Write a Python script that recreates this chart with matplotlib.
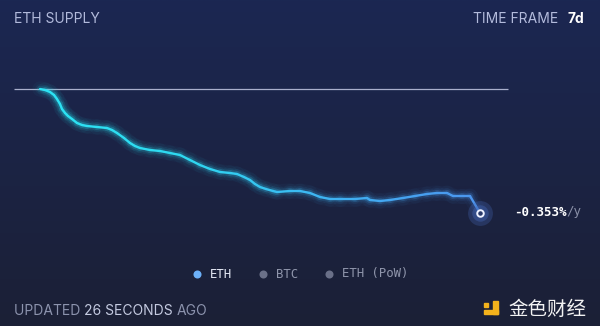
import numpy as np
import matplotlib
matplotlib.use("Agg")
import matplotlib.pyplot as plt
from matplotlib.collections import LineCollection
from matplotlib.colors import LinearSegmentedColormap
from matplotlib.patches import Rectangle
from matplotlib.lines import Line2D

# ---- data: days since start, supply change (ETH)
days = [0.0, 0.08, 0.159, 0.223, 0.27, 0.318, 0.35, 0.398, 0.445, 0.509, 0.589,
        0.668, 0.748, 0.907, 1.066, 1.145, 1.225, 1.336, 1.432, 1.511, 1.591,
        1.75, 1.909, 2.068, 2.227, 2.386, 2.545, 2.705, 2.864, 3.023, 3.134,
        3.245, 3.341, 3.42, 3.5, 3.595, 3.707, 3.77, 3.977, 4.136, 4.295, 4.455,
        4.614, 4.773, 5.011, 5.202, 5.25, 5.409, 5.568, 5.775, 5.966, 6.157,
        6.316, 6.475, 6.57, 6.714, 6.841, 7.0]
supply = [0, -65, -195, -390, -650, -975, -1300, -1560, -1755, -1950, -2210,
          -2340, -2405, -2470, -2535, -2665, -2860, -3185, -3510, -3705, -3835,
          -3965, -4030, -4160, -4290, -4615, -4940, -5200, -5395, -5460, -5525,
          -5720, -5915, -6175, -6370, -6500, -6630, -6695, -6630, -6630, -6760,
          -7020, -7150, -7150, -7150, -7085, -7215, -7280, -7215, -7085, -6955,
          -6825, -6760, -6760, -6955, -6955, -6955, -8060]
rate_text = "-0.353%"
legend_items = ["ETH", "BTC", "ETH (PoW)"]

W, H = 600, 326
fig = plt.figure(figsize=(W / 100, H / 100), dpi=100)
ax = fig.add_axes([0, 0, 1, 1])
# pixel mapping: day 0 -> x=40, day 7 -> x=480 ; supply 0 -> y=89, 65 ETH per px
xl = (-40 / 440 * 7, (W - 40) / 440 * 7)
k = 65.0
yl = (-(H - 89) * k, 89 * k)
ax.set_xlim(*xl)
ax.set_ylim(*yl)
ax.axis("off")

# background gradient
top = np.array([0x1b, 0x27, 0x52]) / 255
bot = np.array([0x1c, 0x20, 0x36]) / 255
t = np.linspace(0, 1, 256)[:, None]
grad = top[None, :] * (1 - t) + bot[None, :] * t
ax.imshow(grad[:, None, :].repeat(2, axis=1), extent=[xl[0], xl[1], yl[0], yl[1]],
          aspect="auto", zorder=0, origin="upper")

# reference line at start level
ax.plot([(14 - 40) / 440 * 7, (508 - 40) / 440 * 7], [0, 0], color="#aab0cc",
        lw=0.9, zorder=2, solid_capstyle="butt")

x = np.array(days)
y = np.array(supply)
pts = np.column_stack([x, y]).reshape(-1, 1, 2)
segs = np.concatenate([pts[:-1], pts[1:]], axis=1)
cmap = LinearSegmentedColormap.from_list("c", ["#2ce4f4", "#2ed8f0", "#3fb2f2", "#4c94ee"])
cvals = (x[:-1] + x[1:]) / 2 / 7.0

# glow
for lw, a in [(11, 0.035), (7, 0.06), (4.5, 0.12)]:
    lc = LineCollection(segs, cmap=cmap, linewidths=lw, alpha=a, zorder=3,
                        capstyle="round", joinstyle="round")
    lc.set_array(cvals)
    lc.set_clim(0, 1)
    ax.add_collection(lc)
lc = LineCollection(segs, cmap=cmap, linewidths=1.7, zorder=4,
                    capstyle="round", joinstyle="round")
lc.set_array(cvals)
lc.set_clim(0, 1)
ax.add_collection(lc)

# end marker
ex, ey = x[-1], y[-1]
ax.scatter([ex], [ey], s=320, color="#4466b4", alpha=0.30, zorder=5, linewidths=0)
ax.scatter([ex], [ey], s=140, color="#4466b4", alpha=0.40, zorder=5, linewidths=0)
ax.scatter([ex], [ey], s=22, facecolor="#2a3a6a", edgecolor="#eef2ff", linewidths=1.4, zorder=6)

# texts
ft = "Inter"
fs = 10
fig.text(14 / W, 1 - 19 / H, "ETH SUPPLY", color="#b3bbdc", fontsize=fs,
         family=ft, va="center", ha="left")
fig.text(558 / W, 1 - 19 / H, "TIME FRAME", color="#b3bbdc", fontsize=fs,
         family=ft, va="center", ha="right")
fig.text(567 / W, 1 - 19 / H, "7d", color="#ffffff", fontsize=fs,
         family=ft, weight="bold", va="center", ha="left")

fig.canvas.draw()
r = fig.canvas.get_renderer()

mono = "DejaVu Sans Mono"
t1 = fig.text(514 / W, 1 - 212 / H, rate_text, color="#ffffff", fontsize=9,
              family=mono, weight="bold", va="center", ha="left")
b1 = t1.get_window_extent(r)
fig.text(b1.x1 / W, 1 - 212 / H, "/y", color="#8a90a8", fontsize=9,
         family=mono, va="center", ha="left")

# legend
leg_x = [197, 263, 329]
dot_cols = ["#6cb0f8", "#6a7088", "#6a7088"]
txt_cols = ["#e6eaf6", "#9096ac", "#9096ac"]
for lx, lab, dc, tc in zip(leg_x, legend_items, dot_cols, txt_cols):
    fig.add_artist(Line2D([lx / W], [1 - 274 / H], marker="o", markersize=5.8,
                          color=dc, markeredgewidth=0, transform=fig.transFigure))
    fig.text((lx + 13) / W, 1 - 274 / H, lab, color=tc, fontsize=8.8, family=mono,
             va="center", ha="left")

# footer
yb = 1 - 311 / H
a1 = fig.text(14 / W, yb, "UPDATED ", color="#8c93ad", fontsize=fs, family=ft,
              va="center", ha="left")
bb = a1.get_window_extent(r)
a2 = fig.text(bb.x1 / W, yb, "26 SECONDS ", color="#c4cae0", fontsize=fs, family=ft,
              va="center", ha="left")
bb2 = a2.get_window_extent(r)
fig.text(bb2.x1 / W, yb, "AGO", color="#8c93ad", fontsize=fs, family=ft,
         va="center", ha="left")

# watermark
def frect(px, py, w, h, c):
    fig.patches.append(Rectangle((px / W, 1 - (py + h) / H), w / W, h / H,
                                 transform=fig.transFigure, color=c, zorder=5))
frect(484, 303, 4, 4, "#f3b21c")
frect(493, 301, 5, 13, "#f3b21c")
frect(484, 310, 14, 4, "#f3b21c")
fig.text(508 / W, 1 - 309 / H, "金色财经", color="#f2f2f2", fontsize=14,
         family=["Noto Sans CJK SC", "DejaVu Sans"], va="center", ha="left")

fig.savefig("out.png", dpi=100)
